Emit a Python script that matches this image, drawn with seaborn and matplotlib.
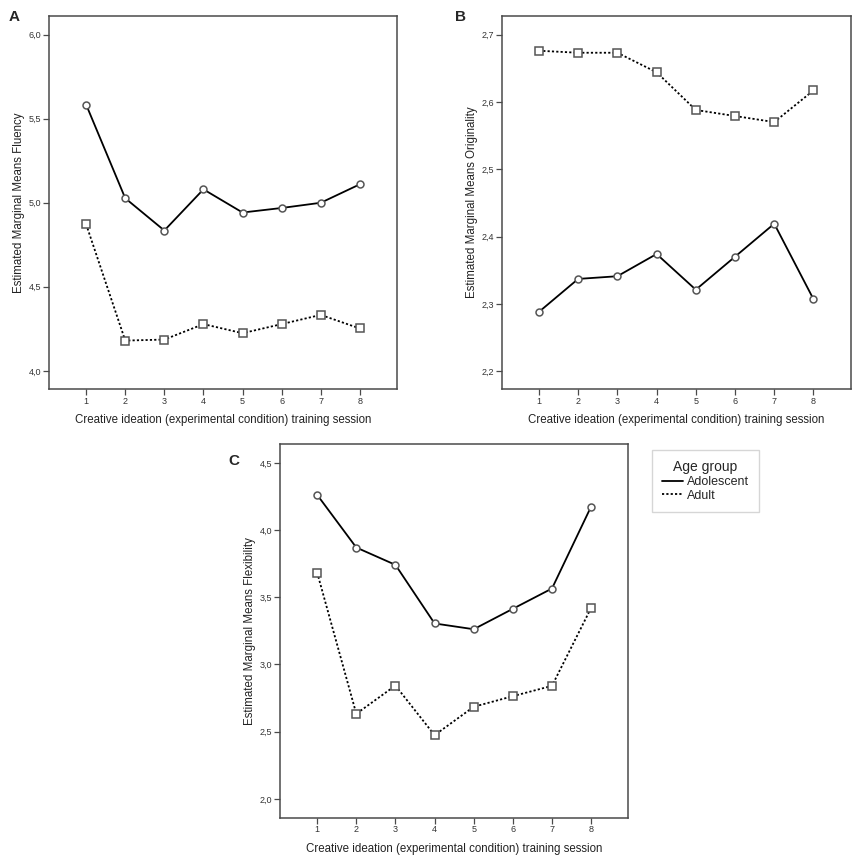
import pandas as pd
import seaborn as sns
import matplotlib.pyplot as plt
from matplotlib.lines import Line2D
from matplotlib.ticker import FuncFormatter

# estimated marginal means
sessions = [1, 2, 3, 4, 5, 6, 7, 8]
groups = ["Adolescent", "Adult"]

fluency_adolescent = [5.584, 5.027, 4.835, 5.080, 4.942, 4.969, 5.000, 5.110]
fluency_adult = [4.872, 4.180, 4.186, 4.278, 4.224, 4.278, 4.333, 4.252]

originality_adolescent = [2.288, 2.337, 2.341, 2.374, 2.321, 2.370, 2.419, 2.307]
originality_adult = [2.676, 2.673, 2.673, 2.644, 2.588, 2.579, 2.570, 2.617]

flexibility_adolescent = [4.262, 3.870, 3.741, 3.305, 3.262, 3.414, 3.565, 4.175]
flexibility_adult = [3.684, 2.633, 2.843, 2.474, 2.685, 2.764, 2.841, 3.421]

fluency_ticks = [4.0, 4.5, 5.0, 5.5, 6.0]
originality_ticks = [2.2, 2.3, 2.4, 2.5, 2.6, 2.7]
flexibility_ticks = [2.0, 2.5, 3.0, 3.5, 4.0, 4.5]

xlabel = "Creative ideation (experimental condition) training session"


def make_df(adol, adult):
    return pd.DataFrame({
        "session": sessions * 2,
        "value": adol + adult,
        "group": [groups[0]] * len(sessions) + [groups[1]] * len(sessions),
    })


sns.set_style("white")
plt.rcParams["font.family"] = ["Liberation Sans", "DejaVu Sans"]

fig = plt.figure(figsize=(8.58, 8.64), dpi=100)
axA = fig.add_axes([0.0571, 0.5494, 0.4056, 0.4324])
axB = fig.add_axes([0.5847, 0.5494, 0.4068, 0.4324])
axC = fig.add_axes([0.3263, 0.0536, 0.4060, 0.4325])

panels = [
    (axA, fluency_adolescent, fluency_adult, "Estimated Marginal Means Fluency",
     fluency_ticks, (3.89, 6.113)),
    (axB, originality_adolescent, originality_adult, "Estimated Marginal Means Originality",
     originality_ticks, (2.173, 2.728)),
    (axC, flexibility_adolescent, flexibility_adult, "Estimated Marginal Means Flexibility",
     flexibility_ticks, (1.86, 4.64)),
]

frame = "#4a4a4a"
for ax, adol, adult, ylab, yt, ylim in panels:
    df = make_df(adol, adult)
    sns.lineplot(data=df, x="session", y="value", style="group",
                 markers={"Adolescent": "o", "Adult": "s"},
                 dashes={"Adolescent": "", "Adult": (1.2, 1.2)},
                 color="black", linewidth=1.3, markersize=5,
                 markerfacecolor="white", markeredgecolor="#555555",
                 markeredgewidth=1.1, legend=False, ax=ax)
    # squares look smaller than circles at the same size
    for line in ax.lines:
        if line.get_marker() == "s":
            line.set_markersize(5.8)
    ax.set_xlim(0.05, 8.95)
    ax.set_ylim(*ylim)
    ax.set_xticks(sessions)
    ax.set_yticks(yt)
    ax.yaxis.set_major_formatter(FuncFormatter(lambda v, p: ("%.1f" % v).replace(".", ",")))
    ax.tick_params(axis="both", which="major", direction="out", length=4, width=0.9,
                   color=frame, labelsize=6.5, labelcolor="#333333", pad=1.5,
                   left=True, bottom=True)
    for s in ax.spines.values():
        s.set_color(frame)
        s.set_linewidth(1.1)
    ax.set_ylabel(ylab, fontsize=8.3, color="#222222", labelpad=2.5)
    ax.set_xlabel(xlabel, fontsize=8.3, color="#222222", labelpad=6)

fig.text(0.010, 0.980, "A", fontsize=11, fontweight="bold", va="center")
fig.text(0.530, 0.980, "B", fontsize=11, fontweight="bold", va="center")
fig.text(0.266, 0.467, "C", fontsize=11, fontweight="bold", va="center")

handles = [
    Line2D([], [], color="black", lw=1.3, linestyle="-"),
    Line2D([], [], color="black", lw=1.3, linestyle=(0, (1.2, 1.2))),
]
leg = fig.legend(handles, groups, title="Age group", loc="upper left",
                 bbox_to_anchor=(652 / 858, 1 - 450 / 864), frameon=True,
                 fontsize=9, title_fontsize=10, handlelength=1.7, handletextpad=0.3,
                 borderpad=0.8, borderaxespad=0, labelspacing=0.15, fancybox=False)
leg.get_frame().set_edgecolor("#cccccc")
leg.get_frame().set_linewidth(1.0)

plt.savefig("out.png", dpi=100)
